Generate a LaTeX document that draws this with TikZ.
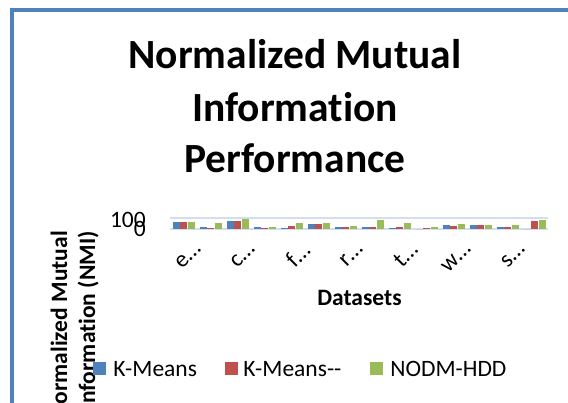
\documentclass[tikz,border=0pt]{standalone}
\usepackage{fontspec}
\setmainfont{Carlito}[Ligatures={NoCommon}]
\usetikzlibrary{positioning}
\definecolor{xlblue}{HTML}{4F81BD}
\definecolor{xlred}{HTML}{C0504D}
\definecolor{xlgreen}{HTML}{9BBB59}
\definecolor{xlgrid}{HTML}{D3DFEE}
\tikzset{
  frame/.style={draw=xlblue,line width=4pt},
  % texter
  ttl/.style={font=\fontsize{41.5}{50}\selectfont\bfseries,inner sep=0pt,anchor=base},
  axttl/.style={font=\fontsize{23.5}{28}\selectfont\bfseries,inner sep=0pt},
  ticklbl/.style={font=\fontsize{23.5}{28}\selectfont,inner sep=0pt},
  % staplar
  gridln/.style={draw=xlgrid,line width=2pt},
  barkm/.style={fill=xlblue},
  barkmm/.style={fill=xlred},
  barnodm/.style={fill=xlgreen},
  key/.style={minimum size=13pt,inner sep=0pt},
  keytxt/.style={font=\fontsize{23.5}{28}\selectfont,inner sep=0pt},
}
\begin{document}
\begin{tikzpicture}[x=1pt,y=-1pt]
  \useasboundingbox (0,0) rectangle (568,403);
  \clip (0,0) rectangle (568,403);
  \draw[frame] (11.5,420) -- (11.5,10.5) -- (590,10.5);
  \node[ttl] (title1) at (295,69) {Normalized Mutual};
  \node[ttl] (title2) at (295,122) {Information};
  \node[ttl] (title3) at (295,173) {Performance};
  \node[axttl,rotate=90,anchor=base east] (ytitle1) at (67,231) {Normalized Mutual};
  \node[axttl,rotate=90,anchor=base east] (ytitle2) at (95,231) {Information (NMI)};
  \node[ticklbl,anchor=east] (ymax) at (146,220) {100};
  \node[ticklbl,anchor=east] (ymin) at (146,229) {0};
  \draw[gridln] (170,218) -- (548,218);
  \draw[gridln] (170,229) -- (548,229);
  \foreach \i/\a/\b/\c in {0/65/65/65,1/19/9/56,2/75/75/94,3/19/9/19,4/9/28/56,
      5/47/47/56,6/19/19/28,7/19/19/84,8/9/19/56,9/0/9/19,10/38/28/47,
      11/38/38/38,12/19/19/38,13/0/75/84}{
    \fill[barkm] (173+27*\i,229) rectangle ++(7,-0.11*\a);
    \fill[barkmm] (180+27*\i,229) rectangle ++(7,-0.11*\b);
    \fill[barnodm] (187.5+27*\i,229) rectangle ++(7,-0.11*\c);
  }
  \foreach \i/\t in {0/e,2/c,4/f,6/r,8/t,10/w,12/s}
    \node[ticklbl,rotate=45,anchor=east] (xl\i) at (198+27*\i,246) {\t…};
  \node[axttl,anchor=base] (xtitle) at (359.5,306) {Datasets};
  \node[key,fill=xlblue] (keykm) at (99.5,369) {};
  \node[keytxt,right=7pt of keykm] (lblkm) {K-Means};
  \node[key,fill=xlred] (keykmm) at (231,369) {};
  \node[keytxt,right=5.5pt of keykmm] (lblkmm) {K-Means-{}-};
  \node[key,fill=xlgreen] (keynodm) at (376.5,369) {};
  \node[keytxt,right=7pt of keynodm] (lblnodm) {NODM-HDD};
\end{tikzpicture}
\end{document}
